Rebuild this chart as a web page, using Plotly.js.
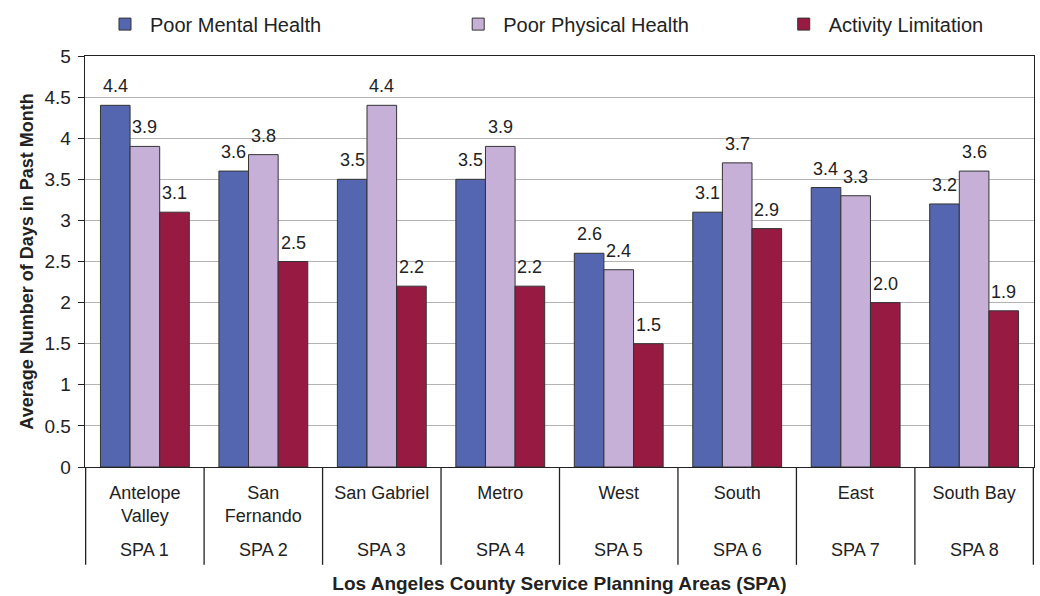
<!DOCTYPE html>
<html><head><meta charset="utf-8">
<script src="https://cdn.plot.ly/plotly-3.0.1.min.js"></script>
<style>body{margin:0;background:#fff}#chart{width:1040px;height:596px}</style>
</head><body><div id="chart"></div>
<script>
const categories = ["Antelope Valley","San Fernando","San Gabriel","Metro","West","South","East","South Bay"];
const tickLabels = ["Antelope<br>Valley","San<br>Fernando","San Gabriel","Metro","West","South","East","South Bay"];
const spaLabels = ["SPA 1","SPA 2","SPA 3","SPA 4","SPA 5","SPA 6","SPA 7","SPA 8"];
const seriesNames = ["Poor Mental Health","Poor Physical Health","Activity Limitation"];
const mentalHealth = [4.4,3.6,3.5,3.5,2.6,3.1,3.4,3.2];
const physicalHealth = [3.9,3.8,4.4,3.9,2.4,3.7,3.3,3.6];
const activityLimitation = [3.1,2.5,2.2,2.2,1.5,2.9,2.0,1.9];

const colors = ["#5566b0","#c6b0d7","#971a42"];
const font = "Liberation Sans, Arial, sans-serif";
const values = [mentalHealth, physicalHealth, activityLimitation];
const legendIds = ["legend","legend2","legend3"];

const traces = values.map((v,i)=>({
  type:"bar", name:seriesNames[i], x:categories, y:v,
  marker:{color:colors[i], line:{color:"#333", width:1}},
  legend:legendIds[i], showlegend:true
}));

const BAR_PX = 29.7;
const annotations = [];
values.forEach((v,s)=>{
  v.forEach((d,i)=>{
    annotations.push({x:categories[i], xref:"x", y:d, yref:"y", text:d.toFixed(1),
      showarrow:false, yanchor:"bottom", xshift:(s-1)*BAR_PX, yshift:7,
      font:{size:18, color:"#222", family:font}});
  });
});
spaLabels.forEach((s,i)=>annotations.push({
  x:categories[i], xref:"x", y:-0.2015, yref:"paper", text:s, showarrow:false,
  font:{size:18, color:"#222", family:font}, yanchor:"middle"
}));

const shapes = [];
for(let i=0;i<=categories.length;i++){
  shapes.push({type:"line", xref:"x", yref:"paper", x0:i-0.5, x1:i-0.5, y0:0, y1:-0.238,
    line:{color:"#222", width:1.3}});
}

const legendBase = {orientation:"h", yanchor:"middle", y:1.075, xanchor:"left",
  font:{size:20, color:"#222", family:font}, bgcolor:"rgba(0,0,0,0)", itemwidth:40};

const layout = {
  width:1040, height:596,
  margin:{l:85, r:6, t:55, b:129},
  paper_bgcolor:"#fff", plot_bgcolor:"#fff",
  font:{family:font, color:"#222"},
  showlegend:true,
  barmode:"group", bargap:0.25, bargroupgap:0,
  legend:Object.assign({}, legendBase, {x:0.0158}),
  legend2:Object.assign({}, legendBase, {x:0.388}),
  legend3:Object.assign({}, legendBase, {x:0.731}),
  xaxis:{
    tickmode:"array", tickvals:categories, ticktext:tickLabels,
    tickfont:{size:18, color:"#222", family:font},
    showline:true, linecolor:"#222", linewidth:1.3, mirror:true,
    ticks:"", ticklabelstandoff:9,
    title:{text:"Los Angeles County Service Planning Areas (SPA)", standoff:51,
      font:{size:19, color:"#222", family:font, weight:"bold"}}
  },
  yaxis:{
    range:[0,5], dtick:0.5, tick0:0,
    tickfont:{size:19, color:"#222", family:font},
    showline:true, linecolor:"#222", linewidth:1.3, mirror:true,
    ticks:"outside", ticklen:6, tickcolor:"#222", ticklabelstandoff:3,
    showgrid:true, gridcolor:"#b4b4b4", gridwidth:1, zeroline:false,
    title:{text:"Average Number of Days in Past Month", standoff:6,
      font:{size:18, color:"#222", family:font, weight:"bold"}}
  },
  shapes:shapes, annotations:annotations
};
Plotly.newPlot("chart", traces, layout, {displayModeBar:false, staticPlot:true});
</script></body></html>
